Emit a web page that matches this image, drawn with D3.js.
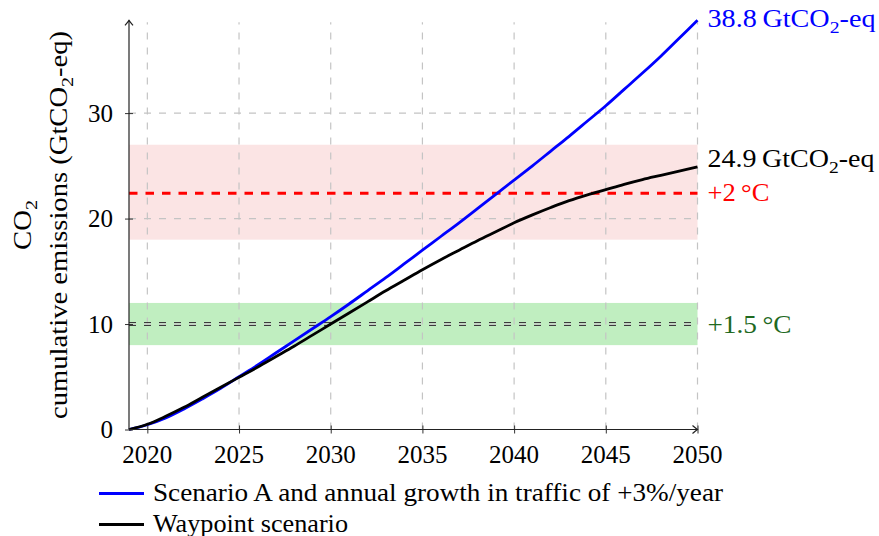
<!DOCTYPE html>
<html>
<head>
<meta charset="utf-8">
<script src="https://cdn.jsdelivr.net/npm/d3@7"></script>
</head>
<body style="margin:0">
<svg id="chart" width="879" height="536" style="display:block"></svg>
<script>
// Years on the x axis
const years = [2019, 2020, 2021, 2022, 2023, 2024, 2025, 2026, 2027, 2028, 2029,
               2030, 2031, 2032, 2033, 2034, 2035, 2036, 2037, 2038, 2039, 2040,
               2041, 2042, 2043, 2044, 2045, 2046, 2047, 2048, 2049, 2050];

// Cumulative CO2 emissions (GtCO2-eq), Scenario A with +3%/year traffic growth
const scenarioA = [0, 0.45, 1.1, 1.95, 2.9, 3.9, 5.0, 6.1, 7.25, 8.4, 9.55,
                   10.7, 11.9, 13.15, 14.4, 15.7, 17.0, 18.3, 19.6, 20.95, 22.3, 23.65,
                   25.0, 26.4, 27.8, 29.25, 30.7, 32.25, 33.8, 35.4, 37.1, 38.8];

// Cumulative CO2 emissions (GtCO2-eq), Waypoint scenario
const waypoint = [0, 0.5, 1.25, 2.1, 3.05, 4.0, 4.95, 5.9, 6.9, 7.9, 8.95,
                  10.0, 11.05, 12.1, 13.15, 14.15, 15.15, 16.1, 17.0, 17.9, 18.75, 19.6,
                  20.35, 21.05, 21.7, 22.25, 22.75, 23.25, 23.7, 24.1, 24.5, 24.9];

// Carbon budgets: central value and range
const budget2C = { value: 22.4, low: 18, high: 27 };
const budget15C = { value: 10, low: 8, high: 12 };

// Tick values
const xTicks = [2020, 2025, 2030, 2035, 2040, 2045, 2050];
const yTicks = [0, 10, 20, 30];

const fs = 25;
const svg = d3.select("#chart");

// Serif label factory
function label(parent) {
  return parent.append("text")
    .style("font-family", '"Liberation Serif"')
    .attr("font-size", fs);
}
// Stretch a label to a set width (Computer-Modern-like proportions)
function fit(t, w) {
  return t.attr("textLength", w).attr("lengthAdjust", "spacingAndGlyphs");
}

const x = d3.scaleLinear().domain([2019, 2050]).range([129, 697.5]);
const y = d3.scaleLinear().domain([0, 38.8]).range([429.5, 20.3]);

const [x0, x1] = x.range();
const [y0, y1] = y.range();

// Budget bands
svg.append("rect")
  .attr("x", x0).attr("width", x1 - x0)
  .attr("y", y(budget2C.high)).attr("height", y(budget2C.low) - y(budget2C.high))
  .attr("fill", "#fbe4e4");
svg.append("rect")
  .attr("x", x0).attr("width", x1 - x0)
  .attr("y", y(budget15C.high)).attr("height", y(budget15C.low) - y(budget15C.high))
  .attr("fill", "#c0eec0");

// Grid
const grid = svg.append("g")
  .attr("stroke", "#c4c4c4").attr("stroke-width", 1.2)
  .attr("stroke-dasharray", "7,8");
grid.selectAll(".vg").data(xTicks).join("line")
  .attr("x1", d => x(d)).attr("x2", d => x(d))
  .attr("y1", y0).attr("y2", y1 + 2);
grid.selectAll(".hg").data(yTicks.filter(d => d > 0)).join("line")
  .attr("x1", x0).attr("x2", x1)
  .attr("y1", d => y(d)).attr("y2", d => y(d));

// +2 °C budget line
svg.append("line")
  .attr("x1", x0).attr("x2", x1)
  .attr("y1", y(budget2C.value)).attr("y2", y(budget2C.value))
  .attr("stroke", "#ff0000").attr("stroke-width", 3)
  .attr("stroke-dasharray", "8.5,8");

// +1.5 °C budget line (double dashed)
[-1.5, 1.5].forEach(off => {
  svg.append("line")
    .attr("x1", x0).attr("x2", x1)
    .attr("y1", y(budget15C.value) + off).attr("y2", y(budget15C.value) + off)
    .attr("stroke", "#3a3a3a").attr("stroke-width", 1.1)
    .attr("stroke-dasharray", "7,8");
});

// Emission curves
const lineGen = d3.line()
  .x((d, i) => x(years[i]))
  .y(d => y(d))
  .curve(d3.curveCatmullRom.alpha(0.5));

svg.append("path").datum(scenarioA)
  .attr("d", lineGen).attr("fill", "none")
  .attr("stroke", "#0000ff").attr("stroke-width", 2.8)
  .attr("stroke-linejoin", "round");
svg.append("path").datum(waypoint)
  .attr("d", lineGen).attr("fill", "none")
  .attr("stroke", "#000000").attr("stroke-width", 2.8)
  .attr("stroke-linejoin", "round");

// Axes: tick marks from d3 axes, labels drawn as serif text
const xAxis = svg.append("g")
  .attr("transform", `translate(0,${y0})`)
  .call(d3.axisBottom(x).tickValues(xTicks).tickFormat("").tickSize(4));
xAxis.select(".domain").remove();
xAxis.selectAll(".tick line").attr("y1", -4).attr("y2", 4).attr("stroke", "#333");
xTicks.forEach(t => {
  label(svg).attr("x", x(t)).attr("y", y0 + 33)
    .attr("text-anchor", "middle").attr("fill", "#000").text(t);
});

const yAxis = svg.append("g")
  .attr("transform", `translate(${x0},0)`)
  .call(d3.axisLeft(y).tickValues(yTicks).tickFormat("").tickSize(4));
yAxis.select(".domain").remove();
yAxis.selectAll(".tick line").attr("x1", -4).attr("x2", 4).attr("stroke", "#333");
yTicks.forEach(t => {
  label(svg).attr("x", x0 - 16).attr("y", y(t) + 8.5)
    .attr("text-anchor", "end").attr("fill", "#000").text(t);
});

// Axis lines with arrow heads
svg.append("line").attr("x1", x0).attr("x2", x1).attr("y1", y0).attr("y2", y0)
  .attr("stroke", "#222").attr("stroke-width", 1.2);
svg.append("line").attr("x1", x0).attr("x2", x0).attr("y1", y0).attr("y2", y1)
  .attr("stroke", "#222").attr("stroke-width", 1.2);
const arrow = "M-5,-4 Q-1.5,-1 0,0 Q-1.5,1 -5,4";
svg.append("path").attr("d", arrow)
  .attr("transform", `translate(${x1},${y0})`)
  .attr("fill", "none").attr("stroke", "#222").attr("stroke-width", 1.2);
svg.append("path").attr("d", arrow)
  .attr("transform", `translate(${x0},${y1}) rotate(-90)`)
  .attr("fill", "none").attr("stroke", "#222").attr("stroke-width", 1.2);

// Helper for text with a subscript "2" in GtCO2
function addUnit(t) {
  t.append("tspan").text("GtCO");
  t.append("tspan").text("2").attr("font-size", fs * 0.7).attr("dy", fs * 0.22);
  t.append("tspan").text("-eq").attr("dy", -fs * 0.22);
}

// End-of-line value labels
const lastA = scenarioA[scenarioA.length - 1];
const lastW = waypoint[waypoint.length - 1];
const lastYear = years[years.length - 1];

const tA = label(svg)
  .attr("x", x(lastYear) + 10).attr("y", y(lastA) + 7)
  .attr("fill", "#0000ff");
tA.append("tspan").text(lastA.toFixed(1) + "\u2009");
addUnit(tA);
fit(tA, 168);

const tW = label(svg)
  .attr("x", x(lastYear) + 10).attr("y", y(lastW) + 0.5)
  .attr("fill", "#000");
tW.append("tspan").text(lastW.toFixed(1) + "\u2009");
addUnit(tW);
fit(tW, 167);

fit(label(svg)
  .attr("x", x(lastYear) + 10).attr("y", y(budget2C.value) + 7.5)
  .attr("fill", "#ff0000")
  .text("+2\u2009°C"), 62);

fit(label(svg)
  .attr("x", x(lastYear) + 10).attr("y", y(budget15C.value) + 8.5)
  .attr("fill", "#1f6a1f")
  .text("+1.5\u2009°C"), 84);

// Y axis title (two lines)
const yMid = (y0 + y1) / 2;
const yt1 = label(svg)
  .attr("transform", `translate(31,${yMid}) rotate(-90)`)
  .attr("text-anchor", "middle").attr("fill", "#000");
yt1.append("tspan").text("CO");
yt1.append("tspan").text("2").attr("font-size", fs * 0.7).attr("dy", fs * 0.22);
fit(yt1, 50);

const yt2 = label(svg)
  .attr("transform", `translate(67,${yMid}) rotate(-90)`)
  .attr("text-anchor", "middle").attr("fill", "#000");
yt2.append("tspan").text("cumulative emissions (");
addUnit(yt2);
yt2.append("tspan").text(")");
fit(yt2, 388);

// Legend
const legend = [
  { label: "Scenario A and annual growth in traffic of +3%/year", color: "#0000ff", width: 570 },
  { label: "Waypoint scenario", color: "#000000", width: 195 }
];
legend.forEach((d, i) => {
  const ly = 493.5 + i * 31;
  svg.append("line").attr("x1", 99).attr("x2", 144).attr("y1", ly).attr("y2", ly)
    .attr("stroke", d.color).attr("stroke-width", 3);
  fit(label(svg).attr("x", 153).attr("y", ly + 7.5)
    .attr("fill", "#000").text(d.label), d.width);
});
</script>
</body>
</html>
